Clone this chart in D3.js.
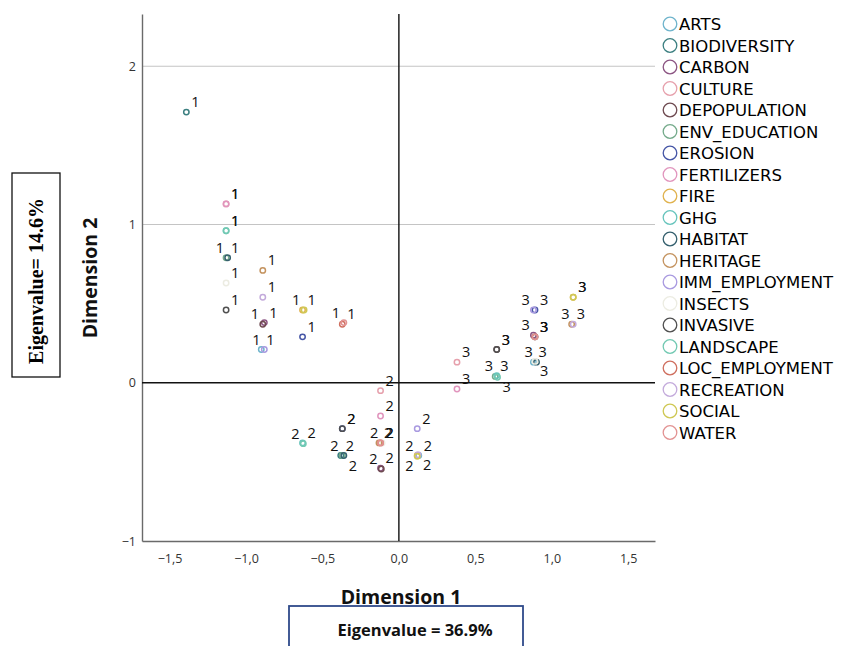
<!DOCTYPE html>
<html>
<head>
<meta charset="utf-8">
<script src="https://cdn.jsdelivr.net/npm/d3@7"></script>
<style>
  body { margin: 0; background: #fff; }
  svg { display: block; }
</style>
</head>
<body>
<div id="chart"></div>
<script>
///////////////////////////
// DATA
///////////////////////////

const variables = [
    'ARTS', 'BIODIVERSITY', 'CARBON', 'CULTURE', 'DEPOPULATION',
    'ENV_EDUCATION', 'EROSION', 'FERTILIZERS', 'FIRE', 'GHG',
    'HABITAT', 'HERITAGE', 'IMM_EMPLOYMENT', 'INSECTS', 'INVASIVE',
    'LANDSCAPE', 'LOC_EMPLOYMENT', 'RECREATION', 'SOCIAL', 'WATER'
];

const colors = [
    '#6fb4cc', '#3b7f80', '#8c5583', '#e6a0ac', '#6e4a50',
    '#74aa8a', '#4656a6', '#e195bd', '#e0b24e', '#66c4bc',
    '#35606e', '#c4935f', '#a99ae0', '#ecece2', '#505050',
    '#72c9b2', '#cf6f5f', '#c3aadb', '#cfc854', '#e29292'
];

// category 1, 2, 3 coordinates per variable (same order as variables)
const cat1X = [-0.90, -1.39, -0.88, -1.13, -0.89, -1.13, -0.63, -1.13, -0.63, -1.13,
               -1.12, -0.89, -0.88, -1.13, -1.13, -1.13, -0.37, -0.89, -0.62, -0.36];
const cat1Y = [ 0.21,  1.71,  0.38,  1.13,  0.37,  0.79,  0.29,  1.13,  0.46,  0.96,
                0.79,  0.71,  0.21,  0.63,  0.46,  0.96,  0.37,  0.54,  0.46,  0.38];

const cat2X = [ 0.13, -0.38, -0.12, -0.12, -0.115, -0.37, -0.37, -0.12,  0.12, -0.63,
               -0.36, -0.13,  0.12, -0.11, -0.37, -0.625, -0.12, 0.125,  0.12, -0.12];
const cat2Y = [-0.46, -0.46, -0.54, -0.05, -0.545, -0.46, -0.29, -0.21, -0.46, -0.38,
               -0.46, -0.38, -0.29, -0.38, -0.29, -0.385, -0.38, -0.455, -0.465, -0.38];

const cat3X = [ 0.88,  0.89,  0.88,  0.38,  0.64,  0.63,  0.89,  0.38,  1.14,  0.64,
                0.90,  1.13,  0.88,  0.89,  0.64,  0.645, 0.89,  1.14,  1.14,  0.89];
const cat3Y = [ 0.13,  0.29,  0.30,  0.13,  0.21,  0.04,  0.46, -0.04,  0.54,  0.045,
                0.13,  0.37,  0.46,  0.135, 0.21,  0.035, 0.29,  0.37,  0.54,  0.29];

const categories = ['1', '2', '3'];
const xTicks = [-1.5, -1.0, -0.5, 0.0, 0.5, 1.0, 1.5];
const yTicks = [-1, 0, 1, 2];
const gridValues = [1, 2];

///////////////////////////
// BUILD POINTS
///////////////////////////

const catX = [cat1X, cat2X, cat3X];
const catY = [cat1Y, cat2Y, cat3Y];

let points = [];
for (let c = 0; c < categories.length; c++) {
    for (let i = 0; i < variables.length; i++) {
        points.push({
            variable: variables[i],
            color: colors[i],
            label: categories[c],
            x: catX[c][i],
            y: catY[c][i]
        });
    }
}

///////////////////////////
// SVG + SCALES
///////////////////////////

const width = 851;
const height = 646;

let svg = d3.select('#chart')
    .append('svg')
    .attr('width', width)
    .attr('height', height);

let x = d3.scaleLinear().domain([-1.68, 1.675]).range([142, 655]);
let y = d3.scaleLinear().domain([-1, 2.33]).range([541, 14]);

const fmt = (d) => d3.format('.1f')(d).replace('.', ',').replace('-', '\u2212');

// grid lines at 1 and 2
svg.selectAll('.grid')
    .data(gridValues)
    .enter().append('line')
    .attr('class', 'grid')
    .attr('x1', x.range()[0]).attr('x2', x.range()[1])
    .attr('y1', (d) => y(d)).attr('y2', (d) => y(d))
    .style('stroke', '#c4c4c4')
    .style('stroke-width', 1.2);

// axes (no tick marks)
let xAxis = svg.append('g')
    .attr('transform', `translate(0,${y(-1)})`)
    .call(d3.axisBottom(x).tickValues(xTicks).tickSize(0).tickPadding(13).tickFormat(fmt));

let yAxis = svg.append('g')
    .attr('transform', `translate(${x.range()[0]},0)`)
    .call(d3.axisLeft(y).tickValues(yTicks).tickSize(0).tickPadding(6)
        .tickFormat((d) => String(d).replace('-', '\u2212')));

[xAxis, yAxis].forEach((a) => {
    a.select('.domain').style('stroke', '#6a6a6a').style('stroke-width', 1.4);
    a.selectAll('text')
        .style('font-family', '"Open Sans", sans-serif')
        .style('font-size', '12.5px')
        .style('fill', '#333');
});

// reference lines at 0
svg.append('line')
    .attr('x1', x.range()[0]).attr('x2', x.range()[1])
    .attr('y1', y(0)).attr('y2', y(0))
    .style('stroke', '#111').style('stroke-width', 1.4);

svg.append('line')
    .attr('x1', x(0)).attr('x2', x(0))
    .attr('y1', y.range()[1]).attr('y2', y.range()[0])
    .style('stroke', '#111').style('stroke-width', 1.4);

///////////////////////////
// POINTS + LABELS
///////////////////////////

svg.selectAll('.pt')
    .data(points)
    .enter().append('circle')
    .attr('class', 'pt')
    .attr('cx', (d) => x(d.x))
    .attr('cy', (d) => y(d.y))
    .attr('r', 2.7)
    .style('fill', 'none')
    .style('stroke', (d) => d.color)
    .style('stroke-width', 1.5);

// label placement: identical points share a label, others try
// up-right, up-left, down-right, down-left
const labelW = 7;
const labelH = 11;
const offsets = [[5, -5], [-12, -5], [5, 15], [-12, 15]];
let placed = [];

const hits = (b) => placed.some((p) =>
    b.x < p.x + p.w - 1 && b.x + b.w > p.x + 1 && b.y < p.y + p.h - 1 && b.y + b.h > p.y + 1);

points.forEach((d, n) => {
    let px = x(d.x);
    let py = y(d.y);
    let twin = points.slice(0, n).find((o) => o.label === d.label && o.x === d.x && o.y === d.y);
    if (twin) {
        d.lx = twin.lx;
        d.ly = twin.ly;
        return;
    }
    let pos = offsets[0];
    for (let k = 0; k < offsets.length; k++) {
        let b = { x: px + offsets[k][0], y: py + offsets[k][1] - labelH + 1, w: labelW, h: labelH };
        if (!hits(b)) { pos = offsets[k]; break; }
    }
    placed.push({ x: px + pos[0], y: py + pos[1] - labelH + 1, w: labelW, h: labelH });
    d.lx = px + pos[0];
    d.ly = py + pos[1];
});

svg.selectAll('.lbl')
    .data(points)
    .enter().append('text')
    .attr('class', 'lbl')
    .attr('x', (d) => d.lx)
    .attr('y', (d) => d.ly)
    .text((d) => d.label)
    .style('font-family', '"Open Sans", sans-serif')
    .style('font-size', '14.5px')
    .style('fill', '#111');

///////////////////////////
// LEGEND
///////////////////////////

let legend = svg.selectAll('.legend')
    .data(variables)
    .enter().append('g')
    .attr('class', 'legend')
    .attr('transform', (d, i) => `translate(670,${24 + i * 21.5})`);

legend.append('circle')
    .attr('r', 6.8)
    .style('fill', 'none')
    .style('stroke', (d, i) => colors[i])
    .style('stroke-width', 1.3);

legend.append('text')
    .attr('x', 9)
    .attr('y', 6)
    .text((d) => d)
    .style('font-family', '"DejaVu Sans", sans-serif')
    .style('font-size', '16.5px')
    .style('fill', '#000');

///////////////////////////
// AXIS TITLES + EIGENVALUE BOXES
///////////////////////////

svg.append('text')
    .attr('x', 401).attr('y', 604)
    .attr('text-anchor', 'middle')
    .text('Dimension 1')
    .style('font-family', '"Open Sans", sans-serif')
    .style('font-weight', 'bold')
    .style('font-size', '19.5px')
    .style('fill', '#111');

svg.append('text')
    .attr('transform', 'translate(97,278) rotate(-90)')
    .attr('text-anchor', 'middle')
    .text('Dimension 2')
    .style('font-family', '"Open Sans", sans-serif')
    .style('font-weight', 'bold')
    .style('font-size', '19.5px')
    .style('fill', '#111');

svg.append('rect')
    .attr('x', 12).attr('y', 173)
    .attr('width', 48).attr('height', 204)
    .style('fill', '#fff')
    .style('stroke', '#111')
    .style('stroke-width', 1.3);

svg.append('text')
    .attr('transform', 'translate(43,281) rotate(-90)')
    .attr('text-anchor', 'middle')
    .text('Eigenvalue= 14.6%')
    .style('font-family', '"Liberation Serif", serif')
    .style('font-weight', 'bold')
    .style('font-size', '20px')
    .style('fill', '#000');

svg.append('rect')
    .attr('x', 289).attr('y', 606)
    .attr('width', 234).attr('height', 60)
    .style('fill', '#fff')
    .style('stroke', '#2f4a8a')
    .style('stroke-width', 1.8);

svg.append('text')
    .attr('x', 415).attr('y', 636)
    .attr('text-anchor', 'middle')
    .text('Eigenvalue = 36.9%')
    .style('font-family', '"Open Sans", sans-serif')
    .style('font-weight', 'bold')
    .style('font-size', '16.5px')
    .style('fill', '#111');
</script>
</body>
</html>
